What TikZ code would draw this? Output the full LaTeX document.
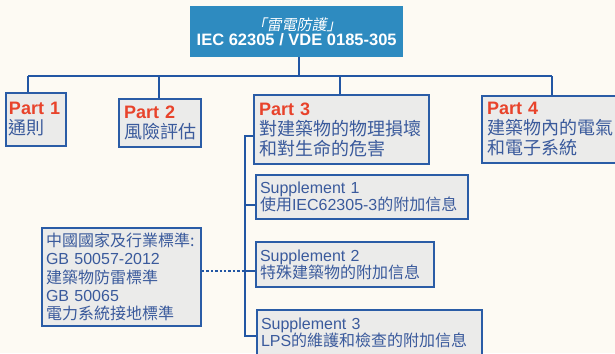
\documentclass[tikz,border=0pt]{standalone}
\usepackage{fontspec}
\setmainfont{Liberation Sans}
\newfontfamily\cjk{Noto Sans CJK TC}
\newfontfamily\cjkit[FakeSlant=0.2]{Noto Sans CJK TC}
\definecolor{bgc}{HTML}{FDFAF3}
\definecolor{topfill}{HTML}{2E8BC0}
\definecolor{linec}{HTML}{2256A3}
\definecolor{boxfill}{HTML}{EBEBEA}
\definecolor{boxline}{HTML}{2A5CA6}
\definecolor{txtc}{HTML}{3A5A9C}
\definecolor{redc}{HTML}{E8432B}
\tikzset{
  partbox/.style={draw=boxline, line width=2pt, fill=boxfill, anchor=north west,
    inner xsep=5pt, inner ysep=0pt, align=left, text=txtc,
    font=\fontsize{18}{20}\selectfont},
  supbox/.style={draw=boxline, line width=2pt, fill=boxfill, anchor=north west,
    inner xsep=4pt, inner ysep=0pt, align=left, text=txtc,
    font=\fontsize{16}{17}\selectfont},
  conn/.style={draw=linec, line width=2.4pt},
}
\newcommand{\partlbl}[1]{{\color{redc}\bfseries #1}}
\begin{document}
\begin{tikzpicture}[x=1pt,y=-1pt]
\path[use as bounding box, fill=bgc] (0,0) rectangle (615,353);
\clip (0,0) rectangle (615,353);
% top box
\node[fill=topfill, anchor=north west, minimum width=213pt, minimum height=51pt,
  inner sep=0pt, align=center, text=white] (top) at (190,6)
  {{\fontsize{15}{18}\selectfont\cjkit 「雷電防護」}\\[1pt]
   {\fontsize{16.5}{18}\selectfont\bfseries IEC 62305 / VDE 0185-305}};
% parts
\node[partbox, minimum width=60pt, minimum height=53pt, inner xsep=3pt, text width=54pt] (p1) at (5,92)
  {\partlbl{Part 1}\\{\cjk 通則}};
\node[partbox, minimum width=82pt, minimum height=48pt, text width=72pt] (p2) at (118,98)
  {\partlbl{Part 2}\\{\cjk 風險評估}};
\node[partbox, minimum width=175pt, minimum height=69pt, text width=165pt] (p3) at (253,94)
  {\partlbl{Part 3}\\{\cjk 對建築物的物理損壞}\\{\cjk 和對生命的危害}};
\node[partbox, minimum width=140pt, minimum height=67pt, text width=130pt] (p4) at (481,95)
  {\partlbl{Part 4}\\{\cjk 建築物內的電氣}\\{\cjk 和電子系統}};
% supplements
\node[supbox, minimum width=212pt, minimum height=44pt, text width=204pt] (s1) at (255,174)
  {Supplement 1\\{\cjk 使用}IEC62305-3{\cjk 的附加信息}};
\node[supbox, minimum width=178pt, minimum height=45pt, text width=170pt] (s2) at (255,241)
  {Supplement 2\\{\cjk 特殊建築物的附加信息}};
\node[supbox, minimum width=225pt, minimum height=45pt, text width=217pt] (s3) at (256,309)
  {Supplement 3\\LPS{\cjk 的維護和檢查的附加信息}};
% left box
\node[supbox, minimum width=159pt, minimum height=98pt, text width=151pt,
  font=\fontsize{16}{18.3}\selectfont] (gb) at (41,227)
  {{\cjk 中國國家及行業標準:}\\GB 50057-2012\\{\cjk 建築物防雷標準}\\GB 50065\\{\cjk 電力系統接地標準}};
% bus
\coordinate (b1) at (28,76);
\coordinate (b2) at (159,76);
\coordinate (b3) at (340,76);
\coordinate (b4) at (552,76);
\coordinate (bt) at (299,76);
\draw[conn] (top.south -| bt) -- (bt);
\draw[conn] (b1) -- (b4);
\draw[conn] (b1) -- (b1 |- p1.north);
\draw[conn] (b2) -- (b2 |- p2.north);
\draw[conn] (b3) -- (b3 |- p3.north);
\draw[conn] (b4) -- (b4 |- p4.north);
% supplement tree
\coordinate (t0) at (245,136);
\coordinate (t1) at (245,205);
\coordinate (t2) at (245,271);
\coordinate (t3) at (245,336);
\draw[conn] (p3.west |- t0) -- (t0) -- (t3) -- (s3.west |- t3);
\draw[conn] (t1) -- (s1.west |- t1);
\draw[conn] (t2) -- (s2.west |- t2);
\draw[draw=linec, line width=2.4pt, dash pattern=on 2.4pt off 2pt] (gb.east |- t2) -- (t2);
\end{tikzpicture}
\end{document}
